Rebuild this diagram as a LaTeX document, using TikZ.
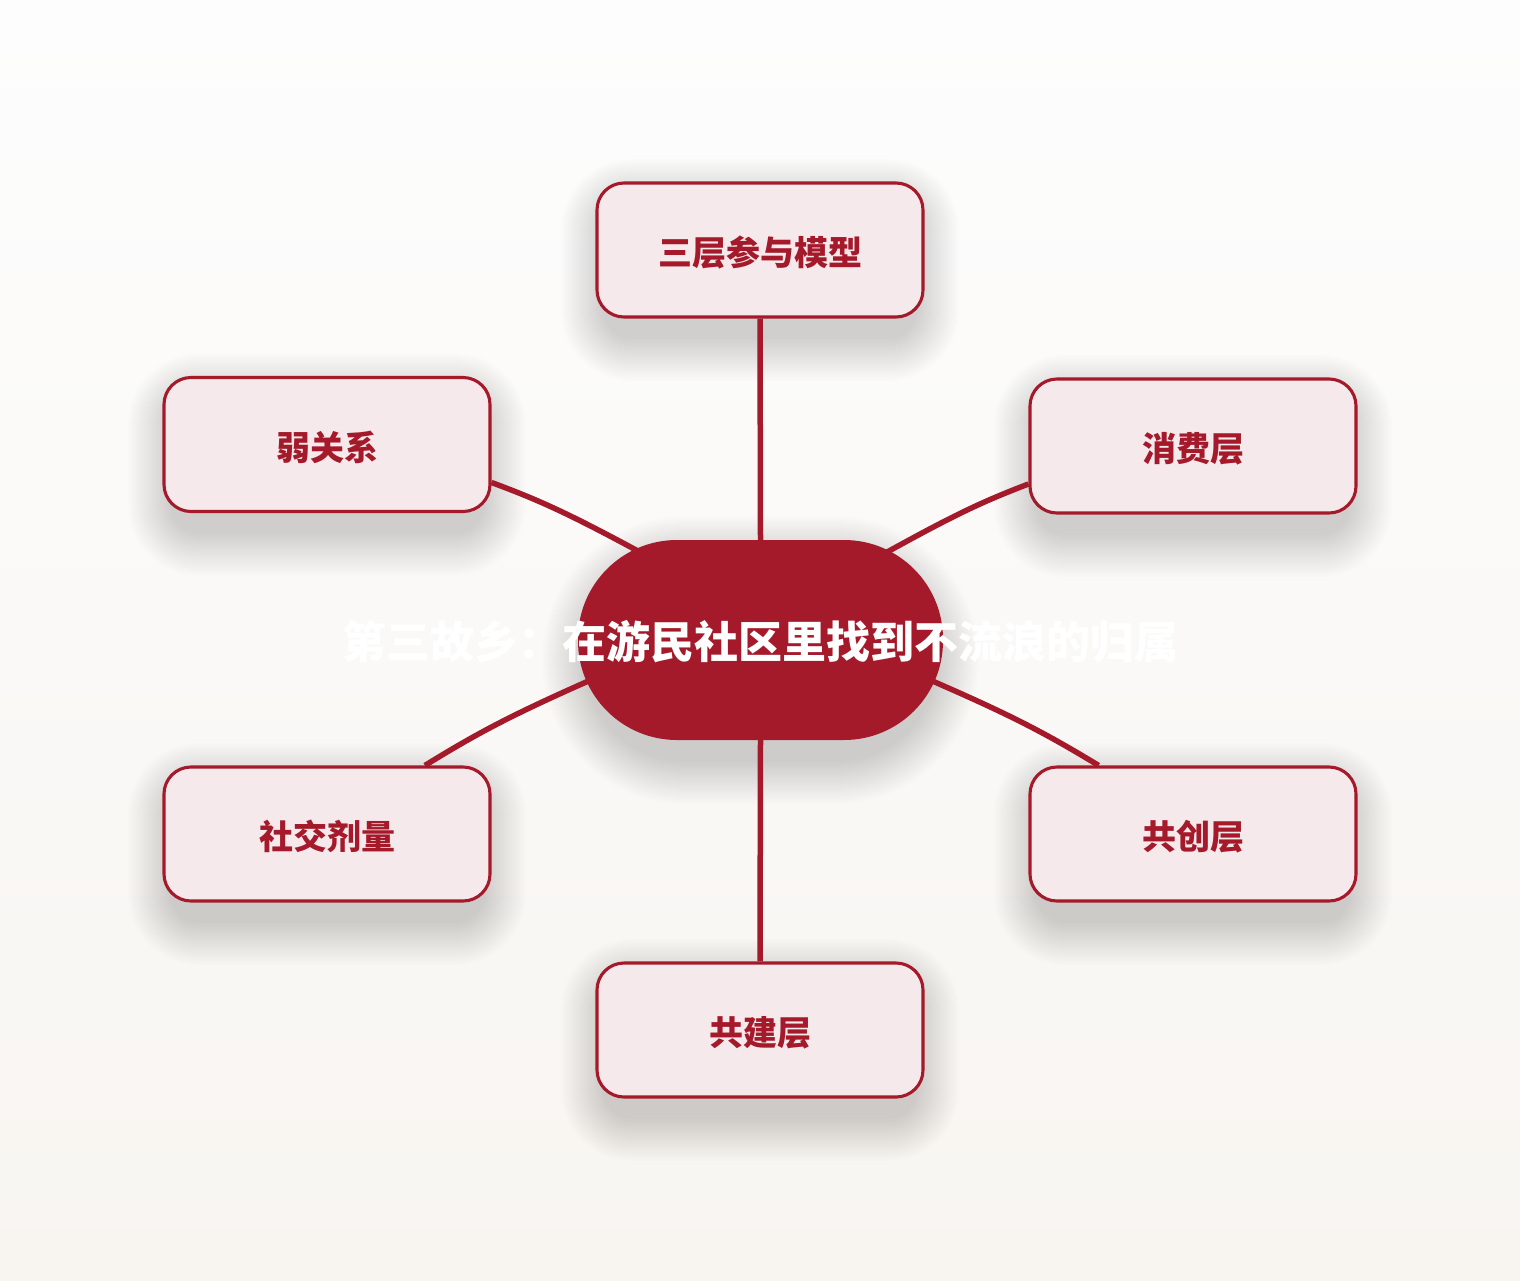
\documentclass[tikz,border=0pt]{standalone}
\usepackage{fontspec}
\setmainfont{Noto Sans CJK SC}
\definecolor{deepred}{HTML}{A51A2A}
\definecolor{boxfill}{HTML}{F5E9EC}
\definecolor{bgtop}{HTML}{FDFDFD}
\definecolor{bgbot}{HTML}{F8F5F1}
\pgfdeclarelayer{bglayer}
\pgfdeclarelayer{linelayer}
\pgfsetlayers{bglayer,linelayer,main}
\newcommand\softshadow[5]{%
  \foreach \i in {0,...,21}{%
    \pgfmathsetmacro\ee{44-2*\i}%
    \pgfmathsetmacro\rr{#5+\ee}%
    \fill[black, fill opacity=0.008, rounded corners=\rr pt]
      ({#1-#3/2-\ee+8},{#2-#4/2-\ee+20}) rectangle ({#1+#3/2+\ee-8},{#2+#4/2+\ee+20});
  }}
\tikzset{
  leaf/.style={draw=deepred, line width=3.1pt, fill=boxfill, rounded corners=27pt,
    minimum width=326pt, minimum height=134pt, inner sep=0pt,
    text height=31pt, text depth=0pt,
    font=\fontsize{34}{40}\selectfont\bfseries, text=deepred},
  hub/.style={fill=deepred, rounded corners=99pt, minimum width=365pt, minimum height=200pt,
    inner sep=0pt},
  hubtext/.style={font=\fontsize{44}{50}\selectfont\bfseries, text=white, inner sep=0pt},
  link/.style={draw=deepred, line width=5.5pt},
  deep/.style={shorten >=-40pt}
}
\begin{document}
\begin{tikzpicture}[x=1pt,y=-1pt]
\begin{pgfonlayer}{bglayer}
\shade[top color=bgtop, bottom color=bgbot] (0,0) rectangle (1520,1280);
\softshadow{760}{250}{326}{134}{27}
\softshadow{327}{444.5}{326}{134}{27}
\softshadow{1193}{446}{326}{134}{27}
\softshadow{327}{834}{326}{134}{27}
\softshadow{1193}{834}{326}{134}{27}
\softshadow{760}{1030}{326}{134}{27}
\softshadow{760.5}{640}{365}{200}{99}
\end{pgfonlayer}
\useasboundingbox (0,0) rectangle (1520,1280);
% nodes
\node[leaf] (t)  at (760,250)   {三层参与模型};
\node[leaf] (lu) at (327,444.5) {弱关系};
\node[leaf] (ru) at (1193,446)  {消费层};
\node[leaf] (ll) at (327,834)   {社交剂量};
\node[leaf] (rl) at (1193,834)  {共创层};
\node[leaf] (b)  at (760,1030)  {共建层};
\node[hub] (c) at (760.5,640) {};
\node[hubtext] (ct) at (760,642) {第三故乡：在游民社区里找到不流浪的归属};
% connectors
\begin{pgfonlayer}{linelayer}
\draw[link] (t.south) -- (c.north);
\draw[link] (c.south) -- (b.north);
\draw[link, deep] (lu.-13.6) to[bend left=4] (c.145);
\draw[link, deep] (ru.193.5) to[bend right=4] (c.34.8);
\draw[link, deep] (ll.35.8) to[bend left=4] (c.194.1);
\draw[link, deep] (rl.144.2) to[bend right=4] (c.-14.7);
\end{pgfonlayer}
\end{tikzpicture}
\end{document}
